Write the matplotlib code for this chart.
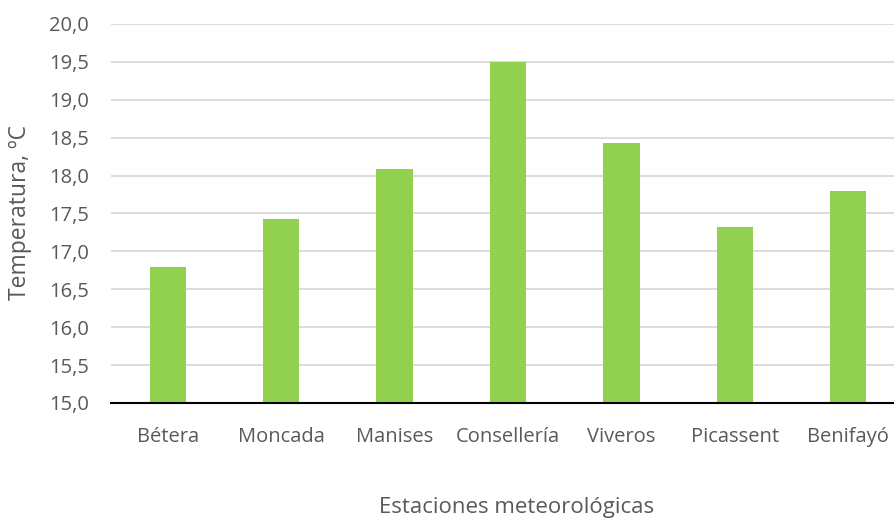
import matplotlib
matplotlib.use("Agg")
import matplotlib.pyplot as plt
from matplotlib.ticker import MultipleLocator, FuncFormatter

stations = ["Bétera", "Moncada", "Manises", "Consellería", "Viveros", "Picassent", "Benifayó"]
temperatures = [16.8, 17.43, 18.09, 19.5, 18.43, 17.32, 17.8]

plt.rcParams['font.family'] = ['Open Sans', 'DejaVu Sans']
text_color = "#595959"

W, H = 895, 520
fig = plt.figure(figsize=(W / 100, H / 100), dpi=100)
# plot area runs slightly past the right edge of the canvas
ax = fig.add_axes([111 / W, 117 / H, 794 / W, 379 / H])

x = list(range(len(stations)))
ax.bar(x, temperatures, width=0.32, color="#92D050", zorder=3)

ax.set_xlim(-0.5, len(stations) - 0.5)
ax.set_ylim(15.0, 20.0)
ax.yaxis.set_major_locator(MultipleLocator(0.5))
ax.yaxis.set_major_formatter(FuncFormatter(lambda v, p: f"{v:.1f}".replace(".", ",")))

ax.grid(axis="y", color="#D9D9D9", linewidth=1.3, zorder=0)
ax.set_axisbelow(True)
for side in ["top", "right", "left"]:
    ax.spines[side].set_visible(False)
ax.spines["bottom"].set_color("black")
ax.spines["bottom"].set_linewidth(1.5)
ax.spines["bottom"].set_zorder(4)

ax.set_xticks(x)
ax.set_xticklabels(stations)
ax.tick_params(axis="both", length=0, labelsize=14.5, colors=text_color)
ax.tick_params(axis="x", pad=17)
ax.tick_params(axis="y", pad=16)

fig.text(20 / W, 1 - 213 / H, "Temperatura, ºC", rotation=90, fontsize=16.5,
         color=text_color, ha="center", va="center")
fig.text(517 / W, 1 - 508 / H, "Estaciones meteorológicas", fontsize=16,
         color=text_color, ha="center", va="center")

fig.savefig("out.png", dpi=100)
